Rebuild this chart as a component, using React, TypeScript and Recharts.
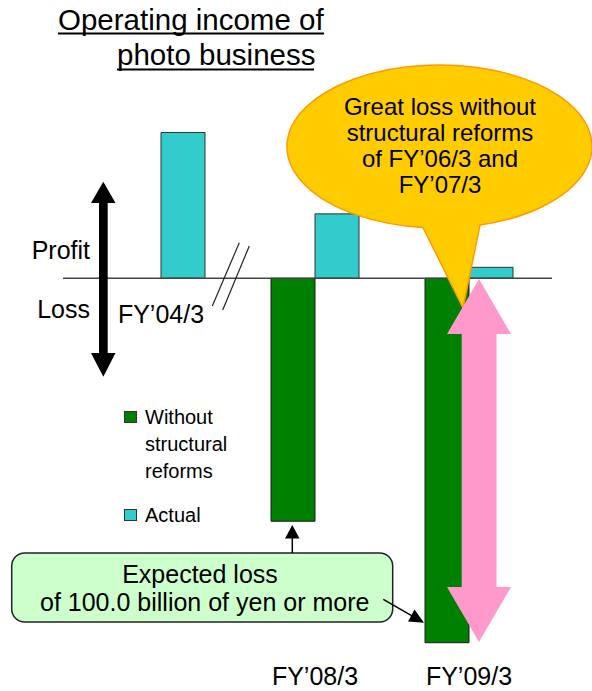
import React from 'react';
import { BarChart, Bar, XAxis, YAxis, ReferenceLine, Legend } from 'recharts';

// operating income, photo business (billion yen)
const categories = ['FY’04/3', 'FY’08/3', 'FY’09/3'];
const withoutReforms = [null, -100, -150];
const actual = [60, 26.5, 4.5];
const seriesOrder = ['without', 'actual'];

const data = categories.map((name, i) => ({
  name,
  without: withoutReforms[i],
  actual: actual[i],
}));

const FONT = '"Liberation Sans", Arial, Helvetica, sans-serif';

function YearTick({ x, payload }: any) {
  // the first year sits just under the zero line, the others at the bottom
  const first = payload.value === categories[0];
  return (
    <text
      x={x}
      y={first ? 323 : 685}
      textAnchor="middle"
      fontSize={25}
      fontFamily={FONT}
      fill="#000"
    >
      {payload.value}
    </text>
  );
}

function LegendBox({ payload }: any) {
  const items = [...(payload || [])].sort(
    (a: any, b: any) => seriesOrder.indexOf(a.dataKey) - seriesOrder.indexOf(b.dataKey)
  );
  return (
    <div style={{ fontFamily: FONT, fontSize: 20, lineHeight: '27px', color: '#000' }}>
      {items.map((p: any, i: number) => (
        <div key={i} style={{ display: 'flex', marginTop: i ? 17 : 0 }}>
          <div
            style={{
              width: 13,
              height: 12,
              background: p.color,
              border: '1px solid #333',
              boxSizing: 'border-box',
              marginTop: 7,
              marginRight: 8,
              flex: 'none',
            }}
          />
          <div style={{ width: 95 }}>{p.value}</div>
        </div>
      ))}
    </div>
  );
}

function Notes() {
  return (
    <svg
      width={592}
      height={691}
      style={{ position: 'absolute', left: 0, top: 0, pointerEvents: 'none' }}
      fontFamily={FONT}
    >
      {/* title */}
      <text x={58} y={29.5} fontSize={29.5} fill="#000">Operating income of</text>
      <line x1={58} y1={33.5} x2={324} y2={33.5} stroke="#000" strokeWidth={2} />
      <text x={117} y={65.2} fontSize={29.5} fill="#000">photo business</text>
      <line x1={117} y1={69.5} x2={314} y2={69.5} stroke="#000" strokeWidth={2} />

      {/* profit / loss */}
      <text x={90} y={259.3} fontSize={25} textAnchor="end" fill="#000">Profit</text>
      <text x={90} y={317.7} fontSize={25} textAnchor="end" fill="#000">Loss</text>
      <path
        d="M 99 203 L 91 203 L 103.3 181.7 L 115.5 203 L 107.7 203 L 107.7 353 L 115.5 353 L 103.3 376.7 L 91 353 L 99 353 Z"
        fill="#000"
      />

      {/* axis break */}
      <line x1={212.3} y1={306} x2={239.3} y2={242.7} stroke="#222" strokeWidth={1.2} />
      <line x1={222.7} y1={310} x2={249.3} y2={246} stroke="#222" strokeWidth={1.2} />

      {/* balloon */}
      <path
        d="M 480 225.07 A 152.5 81.5 0 1 0 423 227.52 L 463 308 Z"
        fill="#FFCC00"
        stroke="#FF9900"
        strokeWidth={1.5}
        strokeLinejoin="round"
      />
      <g fontSize={24} textAnchor="middle" fill="#000">
        <text x={440} y={115}>Great loss without</text>
        <text x={440} y={141}>structural reforms</text>
        <text x={440} y={167}>of FY’06/3 and</text>
        <text x={440} y={193}>FY’07/3</text>
      </g>

      {/* pink double arrow */}
      <path
        d="M 461.7 334 L 447 334 L 479 279 L 511 334 L 496.5 334 L 496.5 587 L 511 587 L 479 642 L 447 587 L 461.7 587 Z"
        fill="#FF99CC"
      />

      {/* expected loss box */}
      <rect x={11.7} y={553} width={381} height={69} rx={13} fill="#CCFFCC" stroke="#222" strokeWidth={1.5} />
      <text x={200} y={583.3} fontSize={25} textAnchor="middle" fill="#000">Expected loss</text>
      <text x={204.7} y={610.7} fontSize={25} textAnchor="middle" fill="#000">
        of 100.0 billion of yen or more
      </text>
      <line x1={292.3} y1={553} x2={292.3} y2={537} stroke="#000" strokeWidth={1.5} />
      <path d="M 292.3 525 L 299.5 538.5 L 285 538.5 Z" fill="#000" />
      <line x1={383.3} y1={599.3} x2={412} y2={615.8} stroke="#000" strokeWidth={1.5} />
      <path d="M 424 622.7 L 408 621.4 L 414.5 609.6 Z" fill="#000" />
    </svg>
  );
}

export default function App() {
  return (
    <div style={{ position: 'absolute', left: 0, top: 0, width: 592, height: 691, background: '#fff' }}>
      <BarChart
        width={592}
        height={691}
        data={data}
        margin={{ top: 11, right: 40, bottom: 0, left: 63 }}
        barGap={0}
      >
        <XAxis
          dataKey="name"
          height={24}
          axisLine={false}
          tickLine={false}
          padding={{ left: 21, right: 6 }}
          tick={<YearTick />}
          interval={0}
        />
        <YAxis hide type="number" domain={[-160, 110]} allowDataOverflow />
        <Legend
          layout="vertical"
          align="center"
          verticalAlign="middle"
          content={<LegendBox />}
          wrapperStyle={{ left: 124, top: 404, width: 160, height: 'auto' }}
        />
        <Bar
          dataKey="without"
          name="Without structural reforms"
          fill="#008000"
          stroke="#1a1a1a"
          strokeWidth={1}
          barSize={44}
          isAnimationActive={false}
        />
        <Bar
          dataKey="actual"
          name="Actual"
          fill="#33CCCC"
          stroke="#333"
          strokeWidth={1}
          barSize={44}
          isAnimationActive={false}
        />
        <ReferenceLine y={0} stroke="#444" strokeWidth={1.5} />
      </BarChart>
      <Notes />
    </div>
  );
}
